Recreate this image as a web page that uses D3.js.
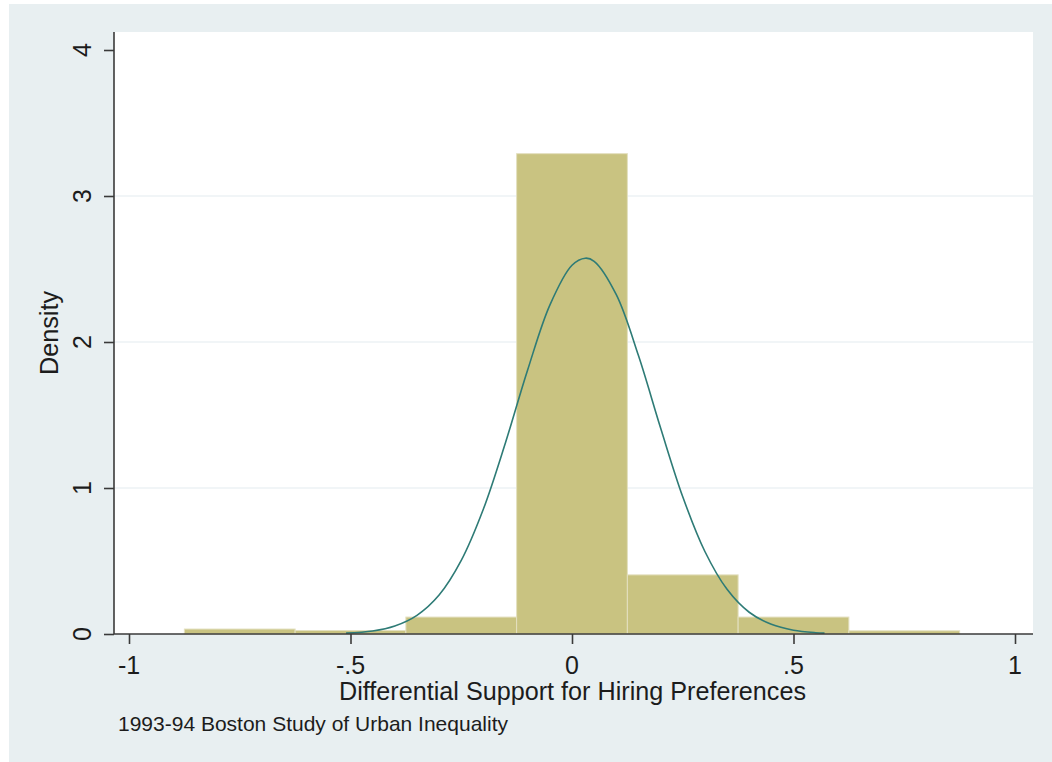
<!DOCTYPE html>
<html>
<head>
<meta charset="utf-8">
<script src="https://cdn.jsdelivr.net/npm/d3@7"></script>
<style>
  html, body { margin: 0; padding: 0; background: #ffffff; }
  svg { display: block; }
  text { font-family: "Liberation Sans", Arial, sans-serif; fill: #1c1c1c; }
</style>
</head>
<body>
<svg id="chart" width="1052" height="762"></svg>
<script>
// Histogram bins (edges) and their densities
const binEdges = [-0.875, -0.625, -0.375, -0.125, 0.125, 0.375, 0.625, 0.875];
const densities = [0.034, 0.024, 0.116, 3.29, 0.405, 0.116, 0.022];

// Overlaid normal density curve (x, density)
const normalX = [-0.51, -0.45, -0.40, -0.35, -0.30, -0.25, -0.20, -0.15, -0.10, -0.05, 0.00, 0.03,
                 0.05, 0.10, 0.15, 0.20, 0.25, 0.30, 0.35, 0.40, 0.45, 0.50, 0.55, 0.57];
const normalY = [0.006, 0.021, 0.055, 0.128, 0.267, 0.504, 0.856, 1.312, 1.810, 2.253, 2.526, 2.574,
                 2.553, 2.324, 1.907, 1.411, 0.940, 0.565, 0.306, 0.149, 0.066, 0.026, 0.009, 0.006];

// Axis ticks and labels
const xTicks = [-1, -0.5, 0, 0.5, 1];
const xTickLabels = ["-1", "-.5", "0", ".5", "1"];
const yTicks = [0, 1, 2, 3, 4];
const yTickLabels = ["0", "1", "2", "3", "4"];
const gridValues = [1, 2, 3];

const xTitle = "Differential Support for Hiring Preferences";
const yTitle = "Density";
const note = "1993-94 Boston Study of Urban Inequality";

// Layout
const W = 1052, H = 762;
const plot = { left: 114, right: 1033, top: 32, bottom: 634 };
const colors = {
  region: "#e8eff1",
  grid: "#e3ecef",
  bar: "#c9c381",
  barEdge: "#e3e0c0",
  curve: "#2e7b76",
  axis: "#3a3a3a"
};

const svg = d3.select("#chart");

const x = d3.scaleLinear().domain([-1, 1]).range([129, 1015]);
const y = d3.scaleLinear().domain([0, 4]).range([634, 50]);

// Graph region background
svg.append("rect")
  .attr("x", 9).attr("y", 4)
  .attr("width", W - 9).attr("height", H - 4)
  .attr("fill", colors.region);

// Plot region
svg.append("rect")
  .attr("x", plot.left).attr("y", plot.top)
  .attr("width", plot.right - plot.left).attr("height", plot.bottom - plot.top)
  .attr("fill", "#ffffff");

// Gridlines
svg.append("g").selectAll("line").data(gridValues).join("line")
  .attr("x1", plot.left).attr("x2", plot.right)
  .attr("y1", d => y(d)).attr("y2", d => y(d))
  .attr("stroke", colors.grid).attr("stroke-width", 1.2);

// Bars
const bins = densities.map((d, i) => ({ x0: binEdges[i], x1: binEdges[i + 1], d }));
svg.append("g").selectAll("rect").data(bins).join("rect")
  .attr("x", b => x(b.x0))
  .attr("width", b => x(b.x1) - x(b.x0))
  .attr("y", b => y(b.d))
  .attr("height", b => y(0) - y(b.d))
  .attr("fill", colors.bar)
  .attr("stroke", colors.barEdge)
  .attr("stroke-width", 1);

// Normal density curve
const pts = normalX.map((v, i) => [v, normalY[i]]);
svg.append("path")
  .datum(pts)
  .attr("fill", "none")
  .attr("stroke", colors.curve)
  .attr("stroke-width", 1.6)
  .attr("d", d3.line().x(p => x(p[0])).y(p => y(p[1])).curve(d3.curveCatmullRom));

// Axes (ticks via d3 axes, axis lines along the plot region edges)
const xAxis = svg.append("g")
  .attr("transform", `translate(0,${plot.bottom})`)
  .call(d3.axisBottom(x).tickValues(xTicks).tickSize(10).tickFormat(""));
const yAxis = svg.append("g")
  .attr("transform", `translate(${plot.left},0)`)
  .call(d3.axisLeft(y).tickValues(yTicks).tickSize(10).tickFormat(""));
[xAxis, yAxis].forEach(g => {
  g.select(".domain").remove();
  g.selectAll(".tick line").attr("stroke", colors.axis).attr("stroke-width", 1.6);
});

svg.append("line")
  .attr("x1", plot.left).attr("x2", plot.right)
  .attr("y1", plot.bottom).attr("y2", plot.bottom)
  .attr("stroke", colors.axis).attr("stroke-width", 1.6);
svg.append("line")
  .attr("x1", plot.left).attr("x2", plot.left)
  .attr("y1", plot.top).attr("y2", plot.bottom)
  .attr("stroke", colors.axis).attr("stroke-width", 1.6);

// Tick labels
svg.append("g").selectAll("text").data(xTicks).join("text")
  .attr("x", d => x(d)).attr("y", 674)
  .attr("text-anchor", "middle")
  .attr("font-size", 25)
  .text((d, i) => xTickLabels[i]);

svg.append("g").selectAll("text").data(yTicks).join("text")
  .attr("transform", d => `translate(91,${y(d)}) rotate(-90)`)
  .attr("text-anchor", "middle")
  .attr("font-size", 25)
  .text((d, i) => yTickLabels[i]);

// Titles
svg.append("text")
  .attr("x", 572.5).attr("y", 700)
  .attr("text-anchor", "middle")
  .attr("font-size", 25)
  .attr("textLength", 467).attr("lengthAdjust", "spacingAndGlyphs")
  .text(xTitle);

svg.append("text")
  .attr("transform", "translate(58,333) rotate(-90)")
  .attr("text-anchor", "middle")
  .attr("font-size", 25)
  .attr("textLength", 84).attr("lengthAdjust", "spacingAndGlyphs")
  .text(yTitle);

svg.append("text")
  .attr("x", 118).attr("y", 731)
  .attr("font-size", 21)
  .attr("textLength", 390).attr("lengthAdjust", "spacingAndGlyphs")
  .text(note);
</script>
</body>
</html>
